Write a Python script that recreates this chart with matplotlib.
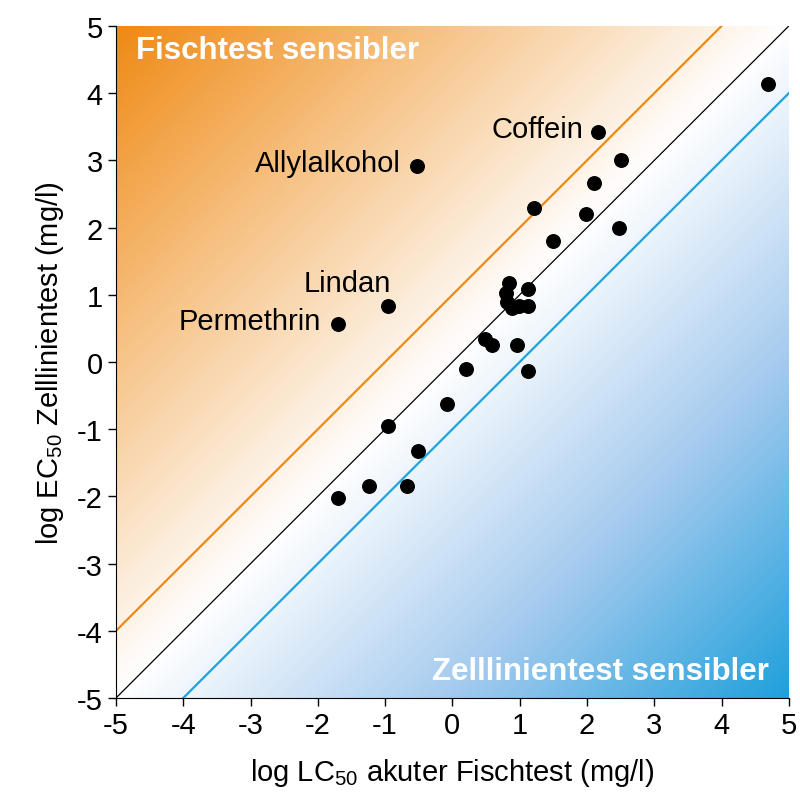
import matplotlib.pyplot as plt
import numpy as np
from matplotlib.colors import LinearSegmentedColormap

plt.rcParams["font.family"] = ["Liberation Sans", "DejaVu Sans"]
plt.rcParams["axes.unicode_minus"] = False

# log LC50 fish test (x) vs log EC50 cell line test (y)
fish_lc50 = [4.69, 2.17, 2.51, 2.11, -0.53, 1.22, 1.99, 2.47, 1.50,
             0.84, 1.13, 0.80, 0.81, 0.88, 0.99, 1.12, -0.96, -1.70,
             0.48, 0.59, 0.96, 0.20, 1.12, -0.08, -0.96, -0.51, -1.24,
             -0.67, -1.70]
cell_ec50 = [4.14, 3.42, 3.00, 2.66, 2.91, 2.29, 2.20, 1.99, 1.80,
             1.17, 1.08, 1.02, 0.90, 0.81, 0.83, 0.84, 0.83, 0.56,
             0.34, 0.25, 0.26, -0.10, -0.13, -0.62, -0.95, -1.33, -1.84,
             -1.84, -2.02]

labels = ["Coffein", "Allylalkohol", "Lindan", "Permethrin"]
label_x = [2.17, -0.53, -0.96, -1.70]
label_y = [3.42, 2.91, 0.83, 0.56]
label_dx = [-0.23, -0.23, 0.05, -0.25]
label_dy = [0.05, 0.05, 0.35, 0.05]

orange = "#ef8a14"
blue = "#1fa0db"

fig = plt.figure(figsize=(8, 8.04), dpi=100)
ax = fig.add_axes([0.145, 0.1306, 0.841, 0.8358])

# gradient background: orange above the diagonal, blue below
xs = np.linspace(-5, 5, 400)
X, Y = np.meshgrid(xs, xs)
D = (Y - X) / 10.0
cmap = LinearSegmentedColormap.from_list(
    "bg", [(0.0, blue), (0.25, "#a3caee"), (0.5, "white"), (1.0, orange)])
ax.imshow(D, extent=[-5, 5, -5, 5], origin="lower", cmap=cmap,
          vmin=-1, vmax=1, aspect="auto", zorder=0)

line = np.array([-5, 5])
ax.plot(line, line, color="black", lw=0.9, zorder=1)
ax.plot(line, line + 1, color="#ee8a12", lw=1.6, zorder=1)
ax.plot(line, line - 1, color="#1ea3dc", lw=1.6, zorder=1)

ax.scatter(fish_lc50, cell_ec50, s=95, color="black", zorder=3)

for t, x, y, dx, dy in zip(labels, label_x, label_y, label_dx, label_dy):
    ax.text(x + dx, y + dy, t, ha="right", va="center", fontsize=21, zorder=4)

ax.text(-4.7, 4.65, "Fischtest sensibler", color="white", fontsize=22.5,
        fontweight="bold", ha="left", va="center")
ax.text(4.7, -4.6, "Zelllinientest sensibler", color="white", fontsize=22.5,
        fontweight="bold", ha="right", va="center")

ax.set_xlim(-5, 5)
ax.set_ylim(-5, 5)
ax.set_xticks(range(-5, 6))
ax.set_yticks(range(-5, 6))
ax.tick_params(labelsize=21, length=6, width=1, direction="out")
for s in ["top", "right"]:
    ax.spines[s].set_visible(False)

ax.set_xlabel(r"log LC$_{\mathregular{50}}$ akuter Fischtest (mg/l)", fontsize=21, labelpad=12)
ax.set_ylabel(r"log EC$_{\mathregular{50}}$ Zelllinientest (mg/l)", fontsize=21, labelpad=8)

fig.savefig("out.png", dpi=100)
